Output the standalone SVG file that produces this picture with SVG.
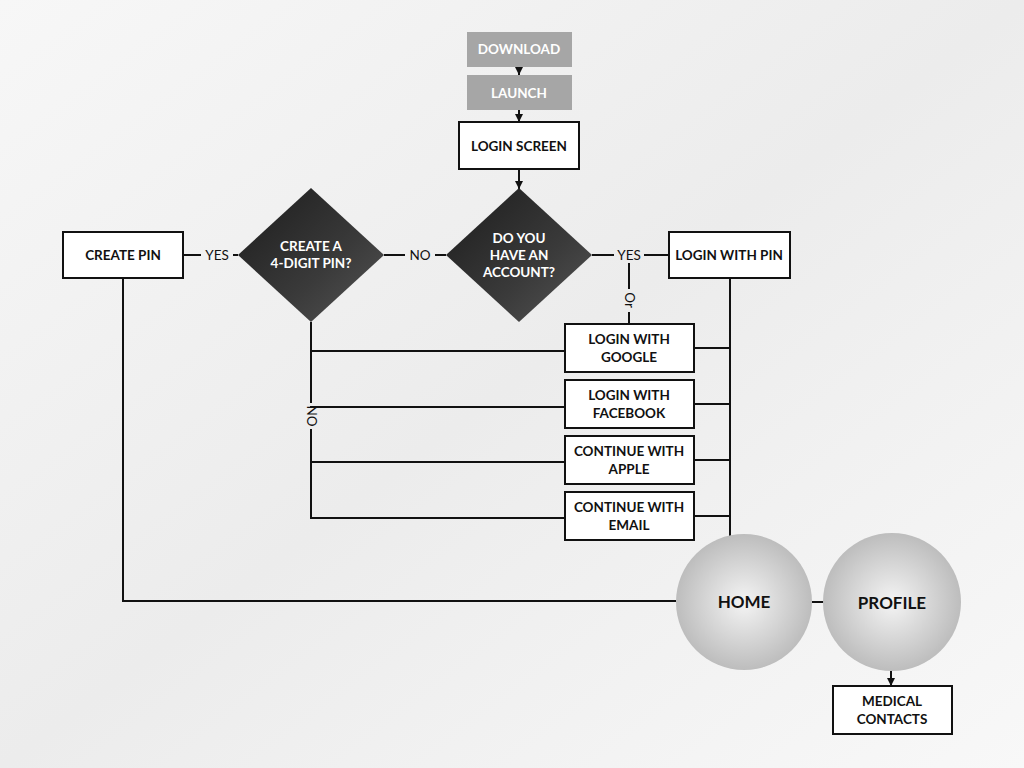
<svg xmlns="http://www.w3.org/2000/svg" width="1024" height="768" viewBox="0 0 1024 768">
<defs>
<linearGradient id="bg" x1="0" y1="0" x2="1" y2="1"><stop offset="0" stop-color="#f7f7f7"/><stop offset="0.5" stop-color="#ececec"/><stop offset="1" stop-color="#f8f8f8"/></linearGradient>
<linearGradient id="dia" x1="0" y1="0" x2="1" y2="1"><stop offset="0" stop-color="#1c1c1c"/><stop offset="0.6" stop-color="#3a3a3a"/><stop offset="1" stop-color="#555"/></linearGradient>
<radialGradient id="ball" cx="0.5" cy="0.5" r="0.5"><stop offset="0" stop-color="#f4f4f4"/><stop offset="1" stop-color="#bdbdbd"/></radialGradient>
<marker id="ar" viewBox="0 0 10 10" refX="10" refY="5" markerWidth="4" markerHeight="4" orient="auto"><path d="M0,0L10,5L0,10z" fill="#111"/></marker>
<style>
.t{font-family:Lato,"Open Sans","Liberation Sans",sans-serif;font-weight:bold;font-size:13.5px;fill:#111;text-anchor:middle}
.w{fill:#fff}
.big{font-size:17px}
.box{fill:#fff;stroke:#111;stroke-width:2}
.grey{fill:#a6a6a6}
.c line,.c path{stroke:#111;stroke-width:2;fill:none}
.lbl{font-family:Lato,"Open Sans","Liberation Sans",sans-serif;font-size:13.5px;fill:#111;text-anchor:middle}
</style>
</defs>
<rect width="1024" height="768" fill="url(#bg)"/>
<g class="c">
<line x1="519" y1="67" x2="519" y2="75" marker-end="url(#ar)"/>
<line x1="519" y1="110" x2="519" y2="122" marker-end="url(#ar)"/>
<line x1="519" y1="169" x2="519" y2="189" marker-end="url(#ar)"/>
<line x1="592" y1="255" x2="614" y2="255"/><line x1="644" y1="255" x2="669" y2="255"/>
<line x1="384" y1="255" x2="405" y2="255"/><line x1="435" y1="255" x2="446" y2="255"/>
<line x1="183" y1="255" x2="201" y2="255"/><line x1="233" y1="255" x2="238" y2="255"/>
<line x1="629" y1="263" x2="629" y2="289"/><line x1="629" y1="312" x2="629" y2="324"/>
<line x1="730" y1="278" x2="730" y2="536"/>
<line x1="694" y1="348" x2="730" y2="348"/><line x1="694" y1="404" x2="730" y2="404"/>
<line x1="694" y1="460" x2="730" y2="460"/><line x1="694" y1="516" x2="730" y2="516"/>
<line x1="311" y1="322" x2="311" y2="403"/><line x1="311" y1="429" x2="311" y2="519"/>
<line x1="310" y1="351" x2="565" y2="351"/><line x1="310" y1="407" x2="565" y2="407"/>
<line x1="310" y1="462" x2="565" y2="462"/><line x1="310" y1="518" x2="565" y2="518"/>
<path d="M123,278V601H676"/>
<line x1="812" y1="602" x2="824" y2="602"/>
<line x1="891" y1="671" x2="891" y2="686" marker-end="url(#ar)"/>
</g>
<g class="lbl">
<text x="629" y="260">YES</text><text x="420" y="260">NO</text><text x="217" y="260">YES</text>
<text transform="translate(625,300) rotate(90)">Or</text>
<text transform="translate(307,416) rotate(90)">NO</text>
</g>
<g id="download"><rect class="grey" x="467" y="32" width="105" height="35"/><text class="t w" x="519" y="54">DOWNLOAD</text></g>
<g id="launch"><rect class="grey" x="467" y="75" width="105" height="35"/><text class="t w" x="519" y="98">LAUNCH</text></g>
<g id="loginscreen"><rect class="box" x="459" y="122" width="120" height="47"/><text class="t" x="519" y="151">LOGIN SCREEN</text></g>
<g id="account"><path d="M519,188L592,255L519,322L446,255z" fill="url(#dia)"/><text class="t w" x="519" y="243">DO YOU</text><text class="t w" x="519" y="260">HAVE AN</text><text class="t w" x="519" y="277">ACCOUNT?</text></g>
<g id="pinq"><path d="M311,188L384,255L311,322L238,255z" fill="url(#dia)"/><text class="t w" x="311" y="251">CREATE A</text><text class="t w" x="311" y="268">4-DIGIT PIN?</text></g>
<g id="createpin"><rect class="box" x="63" y="232" width="120" height="46"/><text class="t" x="123" y="260">CREATE PIN</text></g>
<g id="loginpin"><rect class="box" x="669" y="232" width="121" height="46"/><text class="t" x="729" y="260">LOGIN WITH PIN</text></g>
<g id="google"><rect class="box" x="565" y="324" width="129" height="48"/><text class="t" x="629" y="344">LOGIN WITH</text><text class="t" x="629" y="362">GOOGLE</text></g>
<g id="facebook"><rect class="box" x="565" y="380" width="129" height="48"/><text class="t" x="629" y="400">LOGIN WITH</text><text class="t" x="629" y="418">FACEBOOK</text></g>
<g id="apple"><rect class="box" x="565" y="436" width="129" height="48"/><text class="t" x="629" y="456">CONTINUE WITH</text><text class="t" x="629" y="474">APPLE</text></g>
<g id="email"><rect class="box" x="565" y="492" width="129" height="48"/><text class="t" x="629" y="512">CONTINUE WITH</text><text class="t" x="629" y="530">EMAIL</text></g>
<g id="home"><circle cx="744" cy="602" r="68" fill="url(#ball)"/><text class="t big" x="744" y="608">HOME</text></g>
<g id="profile"><circle cx="892" cy="602" r="69" fill="url(#ball)"/><text class="t big" x="892" y="609">PROFILE</text></g>
<g id="medical"><rect class="box" x="833" y="686" width="119" height="48"/><text class="t" x="892" y="706">MEDICAL</text><text class="t" x="892" y="724">CONTACTS</text></g>
</svg>
